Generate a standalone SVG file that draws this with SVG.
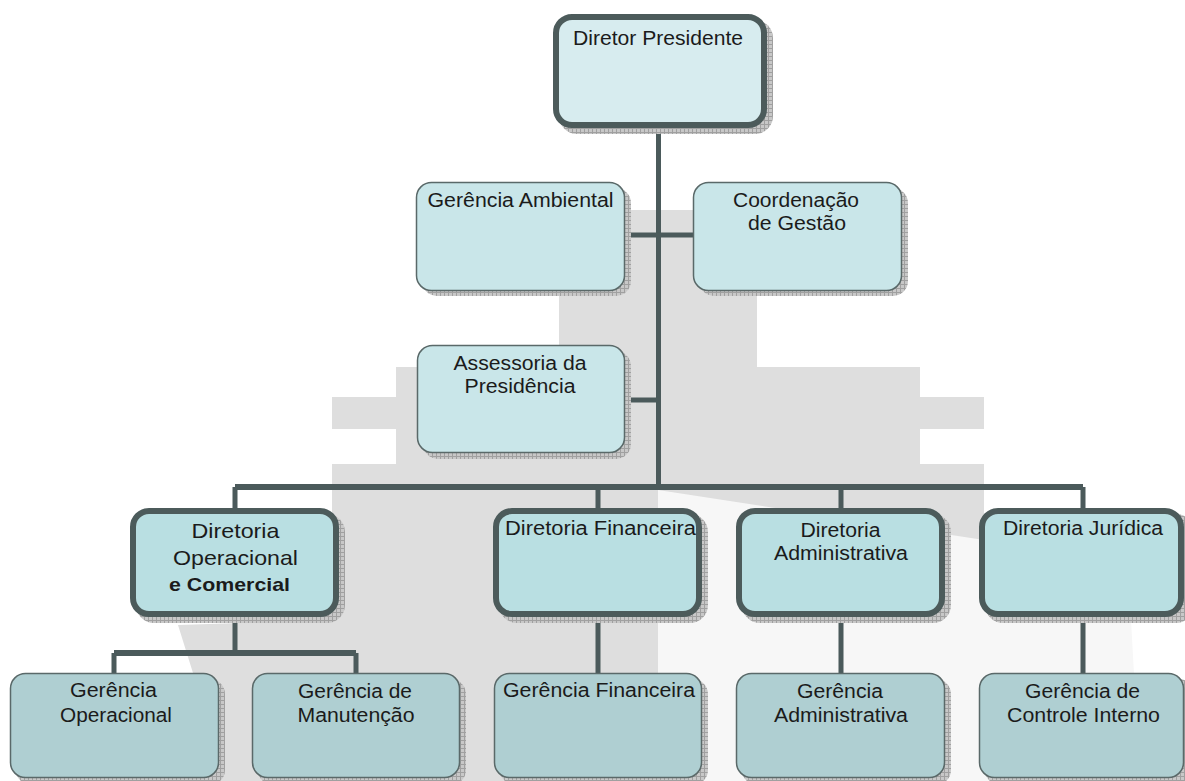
<svg xmlns="http://www.w3.org/2000/svg" width="1185" height="781" viewBox="0 0 1185 781">
<defs>
<pattern id="grid" width="4" height="4" patternUnits="userSpaceOnUse">
<rect width="4" height="4" fill="#c8c8c8"/>
<path d="M0 0.5H4M0.5 0V4" stroke="#a0a0a0" stroke-width="1"/>
</pattern>
</defs>
<style>
.bg{fill:#dedede}
.bg2{fill:#f7f7f7}
.sh{fill:url(#grid)}
.top{fill:#d7ecef;stroke:#4c5b5b;stroke-width:6}
.dir{fill:#b9dfe2;stroke:#4c5b5b;stroke-width:6}
.mid{fill:#c9e6e9;stroke:#5a6969;stroke-width:1.5}
.low{fill:#afcfd2;stroke:#5a6969;stroke-width:1.5}
.ln{stroke:#4b5a5b;stroke-width:5;fill:none}
.lnw{stroke:#4b5a5b;stroke-width:6;fill:none}
text{font-family:"Liberation Sans",Arial,Helvetica,sans-serif;font-size:19.5px;fill:#1b1b1b;text-anchor:middle}
.big{font-size:21px}
.b{font-weight:bold;font-size:19px}
</style>
<rect width="1185" height="781" fill="#ffffff"/>
<g id="background">
<path class="bg2" d="M658,490 L984,490 L984,513 L1125,513 L1140,781 L658,781 Z"/>
<path class="bg" d="M559,210 H757 V367 H920 V397 H984 V429 H920 V464 H984 V540 L658,490 V781 H200 L193,673 L178,625 L332,620 V464 H396 V429 H332 V397 H396 V367 H559 Z"/>
</g>
<g id="connectors">
<path class="ln" d="M658.5,128 V487"/>
<path class="ln" d="M625,235 H693"/>
<path class="ln" d="M625,400 H658.5"/>
<path class="lnw" d="M235,487 H1083"/>
<path class="ln" d="M235,487 V508 M598,487 V508 M841,487 V508 M1083,487 V508"/>
<path class="ln" d="M235,617 V653"/>
<path class="lnw" d="M114,653 H356"/>
<path class="ln" d="M114,653 V673 M356,653 V673"/>
<path class="ln" d="M598,617 V673 M841,617 V673 M1083,617 V673"/>
</g>
<g id="diretor-presidente">
<rect class="sh" x="559" y="20" width="214" height="114" rx="18"/>
<rect class="top" x="556" y="17" width="208" height="108" rx="16"/>
<text x="658" y="45" font-size="20" textLength="170" lengthAdjust="spacingAndGlyphs">Diretor Presidente</text>
</g>
<g id="gerencia-ambiental">
<rect class="sh" x="422" y="188" width="209" height="108" rx="15"/>
<rect class="mid" x="416.5" y="182.5" width="208" height="108" rx="15"/>
<text x="520.5" y="207" textLength="186" lengthAdjust="spacingAndGlyphs">Gerência Ambiental</text>
</g>
<g id="coordenacao-gestao">
<rect class="sh" x="699" y="188" width="209" height="108" rx="15"/>
<rect class="mid" x="693.5" y="182.5" width="208" height="108" rx="15"/>
<text x="796" y="207" textLength="126" lengthAdjust="spacingAndGlyphs">Coordenação</text>
<text x="797" y="230" textLength="98" lengthAdjust="spacingAndGlyphs">de Gestão</text>
</g>
<g id="assessoria">
<rect class="sh" x="423" y="351" width="208" height="108" rx="15"/>
<rect class="mid" x="417.5" y="345.5" width="207" height="107" rx="15"/>
<text x="520" y="370" textLength="133" lengthAdjust="spacingAndGlyphs">Assessoria da</text>
<text x="520" y="393" textLength="111" lengthAdjust="spacingAndGlyphs">Presidência</text>
</g>
<g id="diretoria-operacional">
<rect class="sh" x="136" y="514" width="209" height="109" rx="18"/>
<rect class="dir" x="133" y="511" width="203" height="103" rx="16"/>
<text x="235.5" y="538" class="big" textLength="88" lengthAdjust="spacingAndGlyphs">Diretoria</text>
<text x="235.5" y="565" class="big" textLength="125" lengthAdjust="spacingAndGlyphs">Operacional</text>
<text x="229.5" y="591" class="b" textLength="121" lengthAdjust="spacingAndGlyphs">e Comercial</text>
</g>
<g id="diretoria-financeira">
<rect class="sh" x="499" y="514" width="209" height="109" rx="18"/>
<rect class="dir" x="496" y="511" width="203" height="103" rx="16"/>
<text x="600.5" y="535" textLength="191" lengthAdjust="spacingAndGlyphs">Diretoria Financeira</text>
</g>
<g id="diretoria-administrativa">
<rect class="sh" x="742" y="514" width="209" height="109" rx="18"/>
<rect class="dir" x="739" y="511" width="203" height="103" rx="16"/>
<text x="840.5" y="537" textLength="80" lengthAdjust="spacingAndGlyphs">Diretoria</text>
<text x="841" y="560" textLength="134" lengthAdjust="spacingAndGlyphs">Administrativa</text>
</g>
<g id="diretoria-juridica">
<rect class="sh" x="985" y="514" width="209" height="109" rx="18"/>
<rect class="dir" x="982" y="511" width="199" height="103" rx="16"/>
<text x="1083" y="535" textLength="160" lengthAdjust="spacingAndGlyphs">Diretoria Jurídica</text>
</g>
<g id="gerencia-operacional">
<rect class="sh" x="16" y="679" width="209" height="106" rx="15"/>
<rect class="low" x="10.5" y="673.5" width="208" height="104" rx="15"/>
<text x="113.5" y="697" textLength="87" lengthAdjust="spacingAndGlyphs">Gerência</text>
<text x="116" y="722" textLength="112" lengthAdjust="spacingAndGlyphs">Operacional</text>
</g>
<g id="gerencia-manutencao">
<rect class="sh" x="258" y="679" width="208" height="106" rx="15"/>
<rect class="low" x="252.5" y="673.5" width="207" height="104" rx="15"/>
<text x="355" y="698" textLength="114" lengthAdjust="spacingAndGlyphs">Gerência de</text>
<text x="356" y="722" textLength="117" lengthAdjust="spacingAndGlyphs">Manutenção</text>
</g>
<g id="gerencia-financeira">
<rect class="sh" x="500" y="679" width="208" height="106" rx="15"/>
<rect class="low" x="494.5" y="673.5" width="207" height="104" rx="15"/>
<text x="599" y="697" textLength="192" lengthAdjust="spacingAndGlyphs">Gerência Financeira</text>
</g>
<g id="gerencia-administrativa">
<rect class="sh" x="742" y="679" width="209" height="106" rx="15"/>
<rect class="low" x="736.5" y="673.5" width="208" height="104" rx="15"/>
<text x="840" y="698" textLength="86" lengthAdjust="spacingAndGlyphs">Gerência</text>
<text x="841" y="722" textLength="134" lengthAdjust="spacingAndGlyphs">Administrativa</text>
</g>
<g id="gerencia-controle-interno">
<rect class="sh" x="985" y="679" width="209" height="106" rx="15"/>
<rect class="low" x="979.5" y="673.5" width="204" height="104" rx="15"/>
<text x="1082.5" y="698" textLength="115" lengthAdjust="spacingAndGlyphs">Gerência de</text>
<text x="1083.5" y="722" textLength="153" lengthAdjust="spacingAndGlyphs">Controle Interno</text>
</g>
</svg>
